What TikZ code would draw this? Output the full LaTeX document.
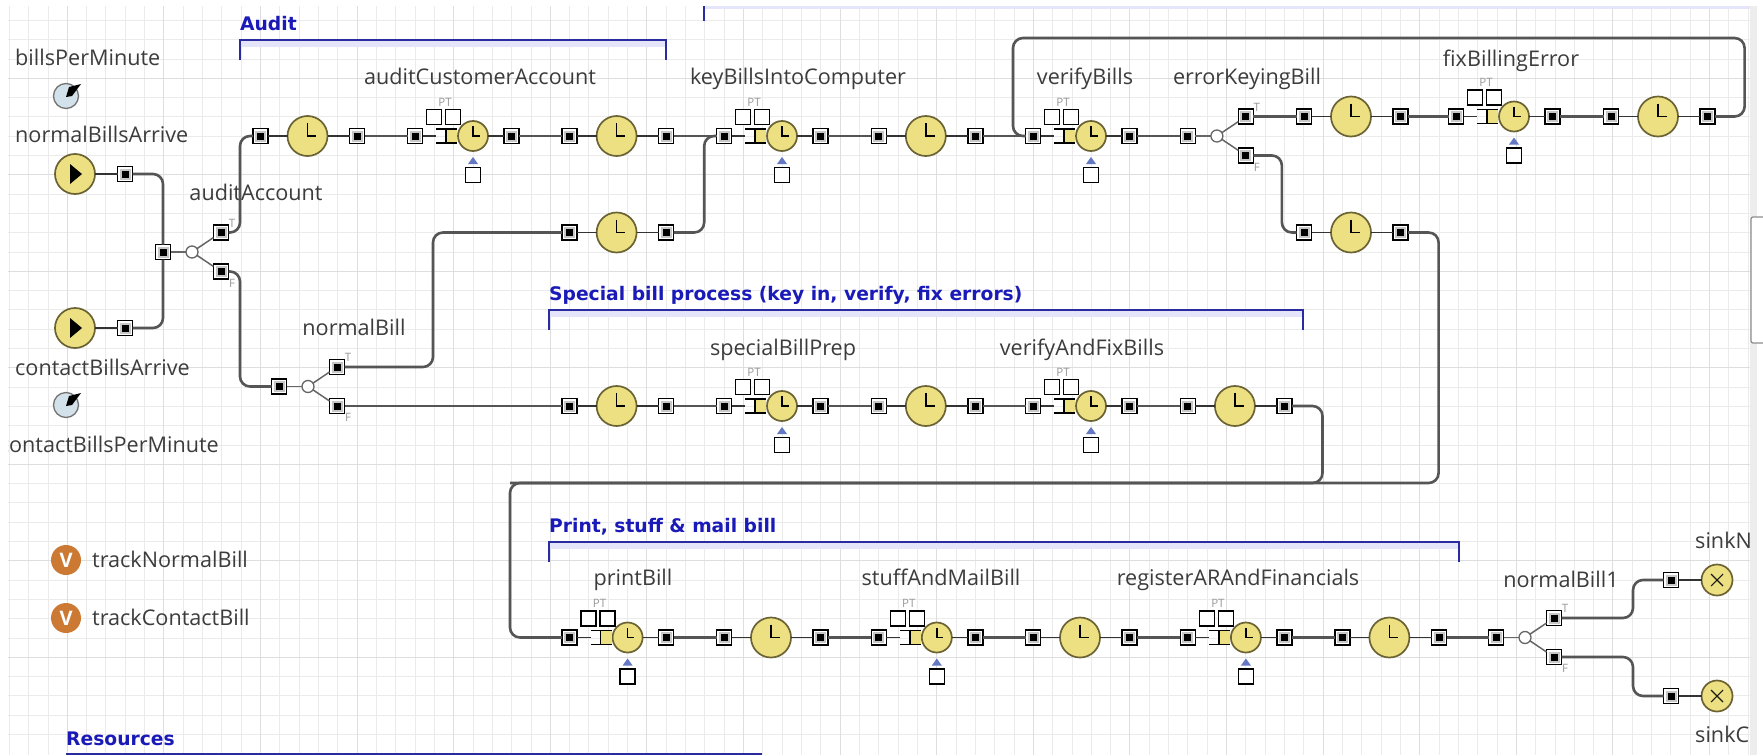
\documentclass[tikz,border=0pt]{standalone}
\usepackage{fontspec}
\setmainfont{Open Sans}
\newfontfamily\headfont{DejaVu Sans}
\usetikzlibrary{shapes.geometric}

\definecolor{clockyellow}{HTML}{EDE083}
\definecolor{clockrim}{HTML}{6B6333}
\definecolor{wiregray}{HTML}{555555}
\definecolor{labelgray}{HTML}{3C3C3C}
\definecolor{headblue}{HTML}{1A1AB8}
\definecolor{bracketblue}{HTML}{2B2BA0}
\definecolor{shadeblue}{HTML}{E4E4FA}
\definecolor{tipblue}{HTML}{6478C4}
\definecolor{knobblue}{HTML}{D3E2EA}
\definecolor{varorange}{HTML}{CC7A33}

\tikzset{
  wire/.style={draw=wiregray, line width=2.6pt, rounded corners=10pt},
  thinwire/.style={draw=black!80, line width=1.5pt},
  port/.style={draw=black, line width=1.4pt, fill=white, minimum size=15pt, inner sep=0pt, outer sep=0pt,
    path picture={
      \fill[black!22] ([shift={(-5.5pt,-5.5pt)}]path picture bounding box.center) rectangle ++(11pt,11pt);
      \fill[black] ([shift={(-3.5pt,-3.5pt)}]path picture bounding box.center) rectangle ++(7pt,7pt);}},
  plainbox/.style={draw=black, line width=1.4pt, fill=white, minimum size=15pt, inner sep=0pt, outer sep=0pt},
  delayclock/.style={circle, draw=clockrim, line width=1.7pt, fill=clockyellow, minimum size=#1, inner sep=0pt, outer sep=0pt,
    path picture={\draw[black, line width=1.6pt] ([yshift=0.32*#1]path picture bounding box.center) -- (path picture bounding box.center) -- ++(0.22*#1,0);}},
  playclock/.style={circle, draw=clockrim, line width=1.7pt, fill=clockyellow, minimum size=40pt, inner sep=0pt, outer sep=0pt,
    path picture={\fill[black] ([xshift=-5pt,yshift=-10pt]path picture bounding box.center) -- ++(0,20pt) -- ++(12pt,-10pt) -- cycle;}},
  sinkclock/.style={circle, draw=clockrim, line width=1.7pt, fill=clockyellow, minimum size=31pt, inner sep=0pt, outer sep=0pt,
    path picture={\draw[black!75!clockrim, line width=1.1pt]
      ([shift={(-6pt,-6pt)}]path picture bounding box.center) -- ++(12pt,12pt)
      ([shift={(-6pt,6pt)}]path picture bounding box.center) -- ++(12pt,-12pt);}},
  knob/.style={circle, draw=black!55, line width=1.3pt, fill=knobblue, minimum size=25pt, inner sep=0pt},
  varicon/.style={circle, fill=varorange, minimum size=30pt, inner sep=0pt, text=white, font=\fontsize{20}{22}\selectfont\bfseries},
  splitter/.style={circle, draw=black!60, line width=1.3pt, fill=white, minimum size=12pt, inner sep=0pt, outer sep=0pt},
  blocklabel/.style={text=labelgray, font=\fontsize{21.6}{25}\selectfont, inner sep=0pt, text height=20pt, text depth=5pt},
  headlabel/.style={text=headblue, font=\headfont\fontsize{18.7}{22}\selectfont\bfseries, anchor=west, inner sep=0pt, text height=18.4pt, text depth=4pt},
  smalltag/.style={text=black!40, font=\fontsize{11.5}{12}\selectfont, inner sep=0pt},
  minorline/.style={draw=black!8, line width=0.9pt},
  majorline/.style={draw=black!13, line width=1.1pt},
}

% delay: in port, clock, out port
\newcommand{\delayblock}[3]{
  \node[port] (#1-in) at (#2,#3) {};
  \node[delayclock=40pt] (#1-clock) at (#2+47,#3) {};
  \node[port] (#1-out) at (#2+96.6,#3) {};
  \draw[thinwire] (#1-in) -- (#1-clock);
  \draw[thinwire] (#1-clock) -- (#1-out);
}
% service: in port, queue, PT boxes, clock, resource box, out port
\newcommand{\serviceblock}[3]{
  \node[port] (#1-in) at (#2,#3) {};
  \node[delayclock=30pt] (#1-clock) at (#2+58,#3) {};
  \node[port] (#1-out) at (#2+96.6,#3) {};
  \fill[clockyellow] (#2+31,#3-7) rectangle (#2+42,#3+7);
  \draw[black, line width=1.4pt] (#2+21,#3-7) -- (#2+42,#3-7) (#2+21,#3+7) -- (#2+42,#3+7) (#2+31,#3-7) -- (#2+31,#3+7);
  \draw[thinwire] (#1-in) -- (#2+21,#3);
  \draw[thinwire] (#1-clock) -- (#1-out);
  \node[plainbox] (#1-p) at (#2+19,#3-19) {};
  \node[plainbox] (#1-t) at (#2+38,#3-19) {};
  \node[smalltag] (#1-pt) at (#2+30,#3-34) {PT};
  \node[plainbox] (#1-res) at (#2+58,#3+39) {};
  \fill[tipblue] (#2+53,#3+28) -- (#2+58,#3+21) -- (#2+63,#3+28) -- cycle;
}
% true/false split behind an entry port
\newcommand{\splitblock}[3]{
  \node[port] (#1-in) at (#2,#3) {};
  \node[splitter] (#1-c) at (#2+29,#3) {};
  \node[port] (#1-T) at (#2+58,#3-19.5) {};
  \node[port] (#1-F) at (#2+58,#3+19.5) {};
  \draw[thinwire, draw=black!60] (#1-in) -- (#1-c);
  \draw[thinwire, draw=black!60] (#1-c) -- (#1-T);
  \draw[thinwire, draw=black!60] (#1-c) -- (#1-F);
  \node[smalltag] (#1-Tt) at (#2+69,#3-29) {T};
  \node[smalltag] (#1-Ft) at (#2+69,#3+31) {F};
}

\begin{document}
\begin{tikzpicture}[x=1pt, y=-1pt]
\useasboundingbox (0,0) rectangle (1763,755);
\fill[white] (0,0) rectangle (1763,755);
\fill[black!7] (1750,6) rectangle (1757,755);
\begin{scope}
\clip (8,6) rectangle (1750,755);
% grid
\foreach \k in {0,...,90} {
  \draw[minorline] (9.34+19.32*\k,6) -- (9.34+19.32*\k,755);
}
\foreach \k in {0,...,38} {
  \draw[minorline] (8,1.1+19.3*\k) -- (1750,1.1+19.3*\k);
}
\foreach \k in {3,8,...,88} {
  \draw[majorline] (9.34+19.32*\k,6) -- (9.34+19.32*\k,755);
}
\foreach \k in {4,9,...,34} {
  \draw[majorline] (8,1.1+19.3*\k) -- (1750,1.1+19.3*\k);
}
% section brackets
\fill[shadeblue] (240,40) rectangle (666,47);
\draw[bracketblue, line width=1.4pt] (240,60) -- (240,40) -- (666,40) -- (666,60);
\node[headlabel] (auditHead) at (240,23) {Audit};
\fill[shadeblue] (704,6) rectangle (1750,9);
\draw[bracketblue, line width=1.4pt] (704,6) -- (704,21);
\fill[shadeblue] (549,310) rectangle (1303,317);
\draw[bracketblue, line width=1.4pt] (549,330) -- (549,310) -- (1303,310) -- (1303,330);
\node[headlabel] (specialHead) at (549,293) {Special bill process (key in, verify, fix errors)};
\fill[shadeblue] (549,542) rectangle (1459,549);
\draw[bracketblue, line width=1.4pt] (549,562) -- (549,542) -- (1459,542) -- (1459,562);
\node[headlabel] (printHead) at (549,525) {Print, stuff \& mail bill};
\draw[bracketblue, line width=1.4pt] (66,754) -- (762,754);
\node[headlabel] (resourcesHead) at (66,738) {Resources};
% sources and parameters
\node[blocklabel, anchor=west] (billsPerMinute) at (15,58) {billsPerMinute};
\node[knob] (billsKnob) at (66,96) {};
\fill[black] (66,97) -- (72,96) -- (81,84) -- (69,87) -- cycle;
\node[blocklabel, anchor=west] (normalBillsArrive) at (15,135) {normalBillsArrive};
\node[playclock] (normalSource) at (75,174) {};
\node[port] (normalSourcePort) at (125,174) {};
\draw[thinwire] (normalSource) -- (normalSourcePort);
\node[playclock] (contactSource) at (75,328) {};
\node[port] (contactSourcePort) at (125,328) {};
\draw[thinwire] (contactSource) -- (contactSourcePort);
\node[blocklabel, anchor=west] (contactBillsArrive) at (15,368) {contactBillsArrive};
\node[knob] (contactKnob) at (66,405) {};
\fill[black] (66,406) -- (72,405) -- (81,393) -- (69,396) -- cycle;
\node[blocklabel, anchor=east] (contactBillsPerMinute) at (219,445) {contactBillsPerMinute};
\node[varicon] (trackNormalIcon) at (66,560) {V};
\node[blocklabel, anchor=west] (trackNormalBill) at (92,560) {trackNormalBill};
\node[varicon] (trackContactIcon) at (66,618) {V};
\node[blocklabel, anchor=west] (trackContactBill) at (92,618) {trackContactBill};
% blocks
\splitblock{auditAccount}{163}{252}
\node[blocklabel] (auditAccountName) at (256,193) {auditAccount};
\delayblock{auditDelay}{260.5}{136}
\serviceblock{auditCustomerAccount}{415}{136}
\delayblock{auditDone}{569.6}{136}
\serviceblock{keyBills}{724}{136}
\delayblock{keyDone}{878.8}{136}
\serviceblock{verifyBills}{1033}{136}
\splitblock{errorKeyingBill}{1187.9}{136}
\delayblock{errorDelay}{1304}{116.5}
\serviceblock{fixBillingError}{1456}{116.5}
\delayblock{fixDone}{1611}{116.5}
\delayblock{okDelay}{1304}{232.5}
\delayblock{normalDelay}{569.6}{232.5}
\splitblock{normalBill}{279}{386.5}
\delayblock{specialDelay}{569.6}{406}
\serviceblock{specialBillPrep}{724}{406}
\delayblock{specialDone}{878.8}{406}
\serviceblock{verifyAndFixBills}{1033}{406}
\delayblock{verifyDone}{1187.9}{406}
\serviceblock{printBill}{569.6}{637.5}
\delayblock{printDone}{724}{637.5}
\serviceblock{stuffAndMailBill}{878.8}{637.5}
\delayblock{stuffDone}{1033}{637.5}
\serviceblock{registerAR}{1187.9}{637.5}
\delayblock{registerDone}{1342.4}{637.5}
\splitblock{normalBillOne}{1496}{637.5}
\node[port] (sinkNormalPort) at (1671,580) {};
\node[port] (sinkContactPort) at (1671,696) {};
\node[sinkclock] (sinkNormal) at (1717,580) {};
\node[sinkclock] (sinkContact) at (1717,696) {};
\draw[thinwire] (sinkNormalPort) -- (sinkNormal);
\draw[thinwire] (sinkContactPort) -- (sinkContact);
% block names
\node[blocklabel] (auditName) at (480,77) {auditCustomerAccount};
\node[blocklabel] (keyName) at (798,77) {keyBillsIntoComputer};
\node[blocklabel] (verifyName) at (1085,77) {verifyBills};
\node[blocklabel] (errorName) at (1247,77) {errorKeyingBill};
\node[blocklabel] (fixName) at (1511,59) {fixBillingError};
\node[blocklabel] (normalName) at (354,328) {normalBill};
\node[blocklabel] (specialName) at (783,348) {specialBillPrep};
\node[blocklabel] (verifyFixName) at (1082,348) {verifyAndFixBills};
\node[blocklabel] (printName) at (633,578) {printBill};
\node[blocklabel] (stuffName) at (941,578) {stuffAndMailBill};
\node[blocklabel] (registerName) at (1238,578) {registerARAndFinancials};
\node[blocklabel] (normalOneName) at (1561,580) {normalBill1};
\node[blocklabel, anchor=west] (sinkNormalName) at (1695,541) {sinkN};
\node[blocklabel, anchor=west] (sinkContactName) at (1695,735) {sinkC};
% wires
\coordinate (feedbackTop) at (1013,38);
\coordinate (printMerge) at (510,483);
\draw[wire] (normalSourcePort) -| (auditAccount-in);
\draw[wire] (contactSourcePort) -| (auditAccount-in);
\draw[wire] (auditAccount-T) -- ++(19,0) |- (auditDelay-in);
\draw[wire] (auditAccount-F) -- ++(19,0) |- (normalBill-in);
\draw[wire] (auditDelay-out) -- (auditCustomerAccount-in);
\draw[wire] (auditCustomerAccount-out) -- (auditDone-in);
\draw[wire] (auditDone-out) -- (keyBills-in);
\draw[wire] (keyBills-out) -- (keyDone-in);
\draw[wire] (keyDone-out) -- (verifyBills-in);
\draw[wire] (verifyBills-out) -- (errorKeyingBill-in);
\draw[wire] (errorKeyingBill-T) -- (errorDelay-in);
\draw[wire] (errorDelay-out) -- (fixBillingError-in);
\draw[wire] (fixBillingError-out) -- (fixDone-in);
\draw[wire] (fixDone-out) -- ++(37,0) |- (feedbackTop) |- (verifyBills-in);
\draw[wire] (errorKeyingBill-F) -- ++(36,0) |- (okDelay-in);
\draw[wire] (okDelay-out) -- ++(38,0) |- (printMerge) |- (printBill-in);
\draw[wire] (normalBill-T) -- ++(96,0) |- (normalDelay-in);
\draw[wire] (normalDelay-out) -- ++(38,0) |- (keyBills-in);
\draw[wire] (normalBill-F) -- (specialDelay-in);
\draw[wire] (specialDelay-out) -- (specialBillPrep-in);
\draw[wire] (specialBillPrep-out) -- (specialDone-in);
\draw[wire] (specialDone-out) -- (verifyAndFixBills-in);
\draw[wire] (verifyAndFixBills-out) -- (verifyDone-in);
\draw[wire] (verifyDone-out) -- ++(38,0) |- (printMerge);
\draw[wire] (printBill-out) -- (printDone-in);
\draw[wire] (printDone-out) -- (stuffAndMailBill-in);
\draw[wire] (stuffAndMailBill-out) -- (stuffDone-in);
\draw[wire] (stuffDone-out) -- (registerAR-in);
\draw[wire] (registerAR-out) -- (registerDone-in);
\draw[wire] (registerDone-out) -- (normalBillOne-in);
\draw[wire] (normalBillOne-T) -- ++(79,0) |- (sinkNormalPort);
\draw[wire] (normalBillOne-F) -- ++(79,0) |- (sinkContactPort);
\end{scope}
\draw[black!45, line width=1.2pt, fill=white, rounded corners=2pt] (1751,217) rectangle (1770,343);
\end{tikzpicture}
\end{document}
